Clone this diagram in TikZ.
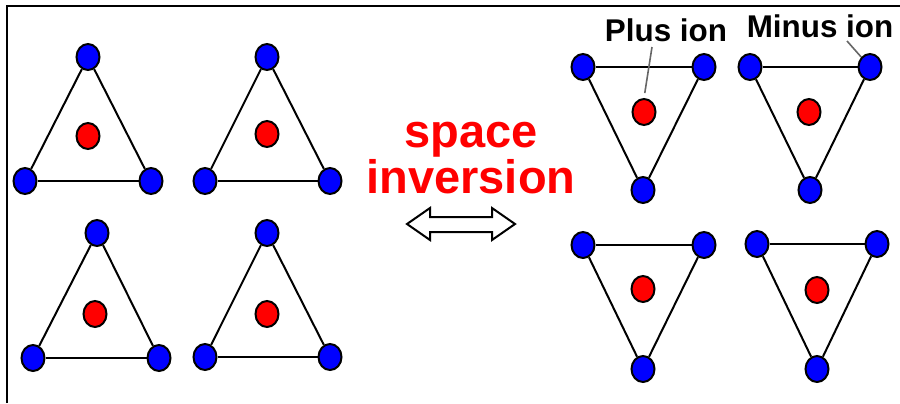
\documentclass[tikz,border=0pt]{standalone}
\usepackage{fontspec}
\setmainfont{Liberation Sans}
\usepackage{tikz}
\usetikzlibrary{calc,positioning,shapes.geometric}
\definecolor{ion-blue}{HTML}{0000FF}
\definecolor{ion-red}{HTML}{FF0000}
\definecolor{lead-gray}{HTML}{666666}

\tikzset{
  minusion/.style={ellipse, draw=black, line width=1pt, fill=ion-blue, inner sep=0pt,
    minimum width=11.5pt, minimum height=13pt},
  plusion/.style={minusion, fill=ion-red},
  bond/.style={line width=1pt},
  leader/.style={lead-gray, line width=0.8pt},
  bigword/.style={ion-red, font=\bfseries\fontsize{23.5}{23}\selectfont, inner sep=0pt, anchor=base},
  tag/.style={font=\bfseries\fontsize{15.7}{16}\selectfont, inner sep=0pt, anchor=base}
}

\begin{document}
\begin{tikzpicture}[x=0.5pt,y=-0.5pt]
\useasboundingbox (0,0) rectangle (900,403);
\draw[line width=1pt] (7,403) -- (7,6) -- (900,6);

% ion triangles: a, b, c corners, m centre
\foreach \n/\ax/\ay/\bx/\by/\cx/\cy/\mx/\my in {
  1/88/57/25/181/151/181/88/136,
  2/267/57/205/181/330/181/267/134,
  3/97/233/33/358/159/358/95/314,
  4/267/233/205/357/330/357/267/314,
  5/583/67/704/67/643/190/644/112,
  6/750/67/870/67/810/190/809/112,
  7/583/245/704/245/643/369/643/289,
  8/757/244/877/244/817/369/817/290}{
  \node[minusion] (t\n a) at (\ax,\ay) {};
  \node[minusion] (t\n b) at (\bx,\by) {};
  \node[minusion] (t\n c) at (\cx,\cy) {};
  \node[plusion] (t\n m) at (\mx,\my) {};
  \draw[bond] (t\n a) -- (t\n b);
  \draw[bond] (t\n b) -- (t\n c);
  \draw[bond] (t\n c) -- (t\n a);
}

\node[bigword] (space) at (471,147) {space};
\node[bigword] (inversion) at (471,193) {inversion};

% hollow double arrow
\draw[line width=1pt, fill=white] (407,224) -- (430,208) -- (430,217) -- (492,217) -- (492,208)
  -- (515,224) -- (492,240) -- (492,232) -- (430,232) -- (430,240) -- cycle;

\node[tag] (plus) at (666,41) {Plus ion};
\node[tag] (minus) at (820,37) {Minus ion};
\coordinate (plusfoot) at (652,47);
\coordinate (minusfoot) at (847,41);
\draw[leader, shorten >=2.5pt] (plusfoot) -- (t5m.north);
\draw[leader] (minusfoot) -- (t6b);
\end{tikzpicture}
\end{document}
